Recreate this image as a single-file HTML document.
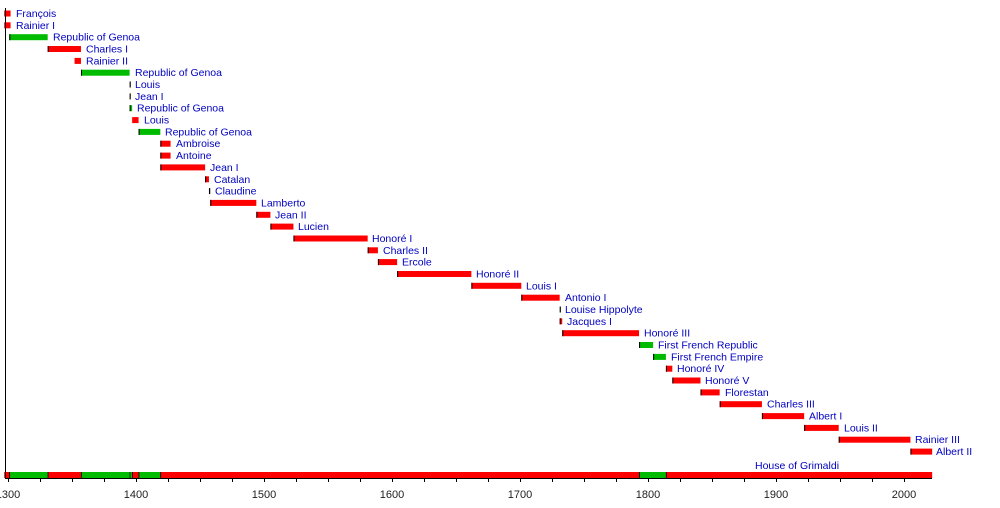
<!DOCTYPE html>
<html><head><meta charset="utf-8"><style>
html,body{margin:0;padding:0;background:#fff;}
svg{display:block;font-family:"Liberation Sans",Arial,sans-serif;}
.l{fill:#0000c0;font-size:10.5px;}
.r{fill:#ff0000}.g{fill:#00bb00}.k{fill:#000}
</style></head><body>
<svg width="1000" height="508" viewBox="0 0 1000 508">
<g transform="translate(8,0) scale(1.28,1) translate(-1300,0)">
<!-- rows: center = 13 + 11.84*i ; bar y = center-2.5 -->
<rect class="r" x="1297" y="10.5" width="5" height="6"/>
<rect class="r" x="1297" y="22.3" width="5" height="6"/>
<rect class="g" x="1301" y="34.2" width="30" height="6"/><rect class="k" x="1301" y="34.2" width="0.8" height="6"/>
<rect class="r" x="1331" y="46" width="26" height="6"/><rect class="k" x="1331" y="46" width="0.8" height="6"/>
<rect class="r" x="1352" y="57.9" width="5" height="6"/>
<rect class="g" x="1357" y="69.7" width="38" height="6"/><rect class="k" x="1357" y="69.7" width="0.8" height="6"/>
<rect class="k" x="1395" y="81.5" width="0.9" height="6"/>
<rect class="k" x="1395" y="93.4" width="0.9" height="6"/>
<rect class="g" x="1395" y="105.2" width="2" height="6"/><rect class="k" x="1395" y="105.2" width="0.8" height="6"/>
<rect class="r" x="1397" y="117.1" width="5" height="6"/>
<rect class="g" x="1402" y="128.9" width="17" height="6"/><rect class="k" x="1402" y="128.9" width="0.8" height="6"/>
<rect class="r" x="1419" y="140.7" width="8" height="6"/><rect class="k" x="1419" y="140.7" width="0.8" height="6"/>
<rect class="r" x="1419" y="152.6" width="8" height="6"/><rect class="k" x="1419" y="152.6" width="0.8" height="6"/>
<rect class="r" x="1419" y="164.4" width="35" height="6"/><rect class="k" x="1419" y="164.4" width="0.8" height="6"/>
<rect class="r" x="1454" y="176.3" width="3" height="6"/><rect class="k" x="1454" y="176.3" width="0.8" height="6"/>
<rect class="k" x="1457" y="188.1" width="1" height="6"/>
<rect class="r" x="1458" y="199.9" width="36" height="6"/><rect class="k" x="1458" y="199.9" width="0.8" height="6"/>
<rect class="r" x="1494" y="211.8" width="11" height="6"/><rect class="k" x="1494" y="211.8" width="0.8" height="6"/>
<rect class="r" x="1505" y="223.6" width="18" height="6"/><rect class="k" x="1505" y="223.6" width="0.8" height="6"/>
<rect class="r" x="1523" y="235.5" width="58" height="6"/><rect class="k" x="1523" y="235.5" width="0.8" height="6"/>
<rect class="r" x="1581" y="247.3" width="8" height="6"/><rect class="k" x="1581" y="247.3" width="0.8" height="6"/>
<rect class="r" x="1589" y="259.1" width="15" height="6"/><rect class="k" x="1589" y="259.1" width="0.8" height="6"/>
<rect class="r" x="1604" y="271" width="58" height="6"/><rect class="k" x="1604" y="271" width="0.8" height="6"/>
<rect class="r" x="1662" y="282.8" width="39" height="6"/><rect class="k" x="1662" y="282.8" width="0.8" height="6"/>
<rect class="r" x="1701" y="294.7" width="30" height="6"/><rect class="k" x="1701" y="294.7" width="0.8" height="6"/>
<rect class="k" x="1731" y="306.5" width="0.9" height="6"/>
<rect class="r" x="1731" y="318.3" width="2" height="6"/><rect class="k" x="1731" y="318.3" width="0.8" height="6"/>
<rect class="r" x="1733" y="330.2" width="60" height="6"/><rect class="k" x="1733" y="330.2" width="0.8" height="6"/>
<rect class="g" x="1793" y="342" width="11" height="6"/><rect class="k" x="1793" y="342" width="0.8" height="6"/>
<rect class="g" x="1804" y="353.9" width="10" height="6"/><rect class="k" x="1804" y="353.9" width="0.8" height="6"/>
<rect class="r" x="1814" y="365.7" width="5" height="6"/><rect class="k" x="1814" y="365.7" width="0.8" height="6"/>
<rect class="r" x="1819" y="377.5" width="22" height="6"/><rect class="k" x="1819" y="377.5" width="0.8" height="6"/>
<rect class="r" x="1841" y="389.4" width="15" height="6"/><rect class="k" x="1841" y="389.4" width="0.8" height="6"/>
<rect class="r" x="1856" y="401.2" width="33" height="6"/><rect class="k" x="1856" y="401.2" width="0.8" height="6"/>
<rect class="r" x="1889" y="413.1" width="33" height="6"/><rect class="k" x="1889" y="413.1" width="0.8" height="6"/>
<rect class="r" x="1922" y="424.9" width="27" height="6"/><rect class="k" x="1922" y="424.9" width="0.8" height="6"/>
<rect class="r" x="1949" y="436.7" width="56" height="6"/><rect class="k" x="1949" y="436.7" width="0.8" height="6"/>
<rect class="r" x="2005" y="448.6" width="17" height="6"/><rect class="k" x="2005" y="448.6" width="0.8" height="6"/>
<!-- bottom bar -->
<rect class="r" x="1297" y="472" width="725" height="6"/>
<rect class="g" x="1301" y="472" width="30" height="6"/>
<rect class="g" x="1357" y="472" width="40" height="6"/>
<rect class="g" x="1402" y="472" width="17" height="6"/>
<rect class="g" x="1793" y="472" width="21" height="6"/>
<rect class="k" x="1301" y="472" width="0.6" height="6"/>
<rect class="k" x="1331" y="472" width="0.6" height="6"/>
<rect class="k" x="1357" y="472" width="0.6" height="6"/>
<rect class="k" x="1395" y="472" width="0.6" height="6"/>
<rect class="k" x="1397" y="472" width="0.6" height="6"/>
<rect class="k" x="1402" y="472" width="0.6" height="6"/>
<rect class="k" x="1419" y="472" width="0.6" height="6"/>
<rect class="k" x="1793" y="472" width="0.6" height="6"/>
<rect class="k" x="1814" y="472" width="0.6" height="6"/>
</g>
<line x1="5.5" y1="8" x2="5.5" y2="479" stroke="#000" stroke-width="1"/>
<line x1="5" y1="478.5" x2="932" y2="478.5" stroke="#000" stroke-width="1"/>
<g stroke="#000" stroke-width="1">
<path d="M8.5 478v4M40.5 478v4M72.5 478v4M104.5 478v4M136.5 478v4M168.5 478v4M200.5 478v4M232.5 478v4M264.5 478v4M296.5 478v4M328.5 478v4M360.5 478v4M392.5 478v4M424.5 478v4M456.5 478v4M488.5 478v4M520.5 478v4M552.5 478v4M584.5 478v4M616.5 478v4M648.5 478v4M680.5 478v4M712.5 478v4M744.5 478v4M776.5 478v4M808.5 478v4M840.5 478v4M872.5 478v4M904.5 478v4"/>
</g>
<g font-size="11" fill="#222" text-anchor="middle">
<text x="8" y="498">1300</text><text x="136" y="498">1400</text><text x="264" y="498">1500</text><text x="392" y="498">1600</text><text x="520" y="498">1700</text><text x="648" y="498">1800</text><text x="776" y="498">1900</text><text x="904" y="498">2000</text>
</g>
<g class="l">
<text x="16" y="17">François</text>
<text x="16" y="28.8">Rainier I</text>
<text x="53" y="40.7">Republic of Genoa</text>
<text x="86" y="52.5">Charles I</text>
<text x="86" y="64.4">Rainier II</text>
<text x="135" y="76.2">Republic of Genoa</text>
<text x="135" y="88">Louis</text>
<text x="135" y="99.9">Jean I</text>
<text x="137" y="111.7">Republic of Genoa</text>
<text x="144" y="123.6">Louis</text>
<text x="165" y="135.4">Republic of Genoa</text>
<text x="176" y="147.2">Ambroise</text>
<text x="176" y="159.1">Antoine</text>
<text x="210" y="170.9">Jean I</text>
<text x="214" y="182.8">Catalan</text>
<text x="215" y="194.6">Claudine</text>
<text x="261" y="206.4">Lamberto</text>
<text x="275" y="218.3">Jean II</text>
<text x="298" y="230.1">Lucien</text>
<text x="372" y="242">Honoré I</text>
<text x="383" y="253.8">Charles II</text>
<text x="402" y="265.6">Ercole</text>
<text x="476" y="277.5">Honoré II</text>
<text x="526" y="289.3">Louis I</text>
<text x="565" y="301.2">Antonio I</text>
<text x="565" y="313">Louise Hippolyte</text>
<text x="567" y="324.8">Jacques I</text>
<text x="644" y="336.7">Honoré III</text>
<text x="658" y="348.5">First French Republic</text>
<text x="671" y="360.4">First French Empire</text>
<text x="677" y="372.2">Honoré IV</text>
<text x="705" y="384">Honoré V</text>
<text x="725" y="395.9">Florestan</text>
<text x="767" y="407.7">Charles III</text>
<text x="809" y="419.6">Albert I</text>
<text x="844" y="431.4">Louis II</text>
<text x="915" y="443.2">Rainier III</text>
<text x="936" y="455.1">Albert II</text>
<text x="755" y="469">House of Grimaldi</text>
</g>
</svg>
</body></html>
